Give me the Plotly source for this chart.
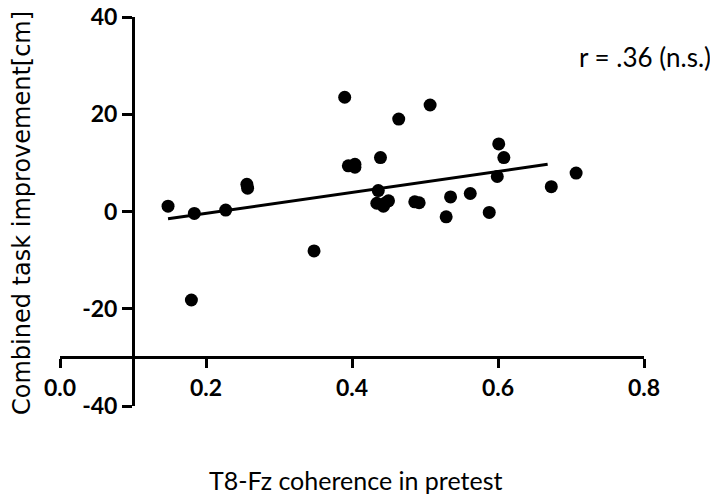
import plotly.graph_objects as go

# Data
coherence = [0.148, 0.184, 0.180, 0.227, 0.256, 0.257, 0.348, 0.390, 0.395, 0.404,
             0.404, 0.439, 0.436, 0.434, 0.445, 0.450, 0.443, 0.464, 0.486, 0.492,
             0.507, 0.529, 0.535, 0.562, 0.588, 0.599, 0.601, 0.608, 0.673, 0.707]
improvement = [1.1, -0.4, -18.2, 0.3, 5.6, 4.8, -8.1, 23.5, 9.4, 9.7,
               9.1, 11.1, 4.3, 1.7, 1.7, 2.2, 1.1, 19.0, 2.0, 1.8,
               21.9, -1.1, 3.0, 3.7, -0.2, 7.2, 13.9, 11.1, 5.1, 7.9]
fit_x = [0.148, 0.668]
fit_y = [-1.5, 9.7]

x_ticks = [0.0, 0.2, 0.4, 0.6, 0.8]
x_ticklabels = ["0.0", "0.2", "0.4", "0.6", "0.8"]
y_ticks = [-40, -20, 0, 20, 40]
y_ticklabels = ["-40", "-20", "0", "20", "40"]

x_title = "T8-Fz coherence in pretest"
y_title = "Combined task improvement[cm]"
stat_label = "r = .36 (n.s.)"

FONT = "Lato, 'Open Sans', sans-serif"
WIDE = "'DejaVu Sans', sans-serif"

fig = go.Figure()
fig.add_trace(go.Scatter(x=fit_x, y=fit_y, mode="lines",
                         line=dict(color="black", width=3), hoverinfo="skip"))
fig.add_trace(go.Scatter(x=coherence, y=improvement, mode="markers",
                         marker=dict(color="black", size=13, line=dict(width=0))))

tickfont = dict(family=FONT, size=23, color="black", weight="bold")

fig.update_layout(
    width=718, height=501,
    margin=dict(l=52, r=82, t=9, b=103),
    paper_bgcolor="white", plot_bgcolor="white",
    showlegend=False,
    font=dict(family=FONT, color="black"),
    xaxis=dict(range=[0, 0.8], tickvals=x_ticks, ticktext=x_ticklabels,
               showgrid=False, zeroline=False, showline=True, linecolor="black",
               linewidth=3, ticks="outside", ticklen=9, tickwidth=3, tickcolor="black",
               anchor="free", position=0.125, automargin=False,
               ticklabeloverflow="allow", tickfont=tickfont),
    yaxis=dict(range=[-40, 40], tickvals=y_ticks, ticktext=y_ticklabels,
               showgrid=False, zeroline=False, showline=True, linecolor="black",
               linewidth=3, ticks="outside", ticklen=10, tickwidth=3, tickcolor="black",
               anchor="free", position=0.125, automargin=False,
               ticklabeloverflow="allow", tickfont=tickfont),
    annotations=[
        dict(text=y_title, xref="paper", yref="paper", x=-0.0642, y=0.495,
             xanchor="center", yanchor="middle", textangle=-90, showarrow=False,
             font=dict(family=WIDE, size=24, color="black")),
        dict(text=x_title, xref="paper", yref="paper", x=0.506, y=-0.19,
             xanchor="center", yanchor="middle", showarrow=False,
             font=dict(family=FONT, size=25, color="black")),
        dict(text=stat_label, xref="paper", yref="paper", x=0.885, y=0.897,
             xanchor="left", yanchor="middle", showarrow=False,
             font=dict(family=FONT, size=26, color="black")),
    ],
)

fig.write_html("out.html")
